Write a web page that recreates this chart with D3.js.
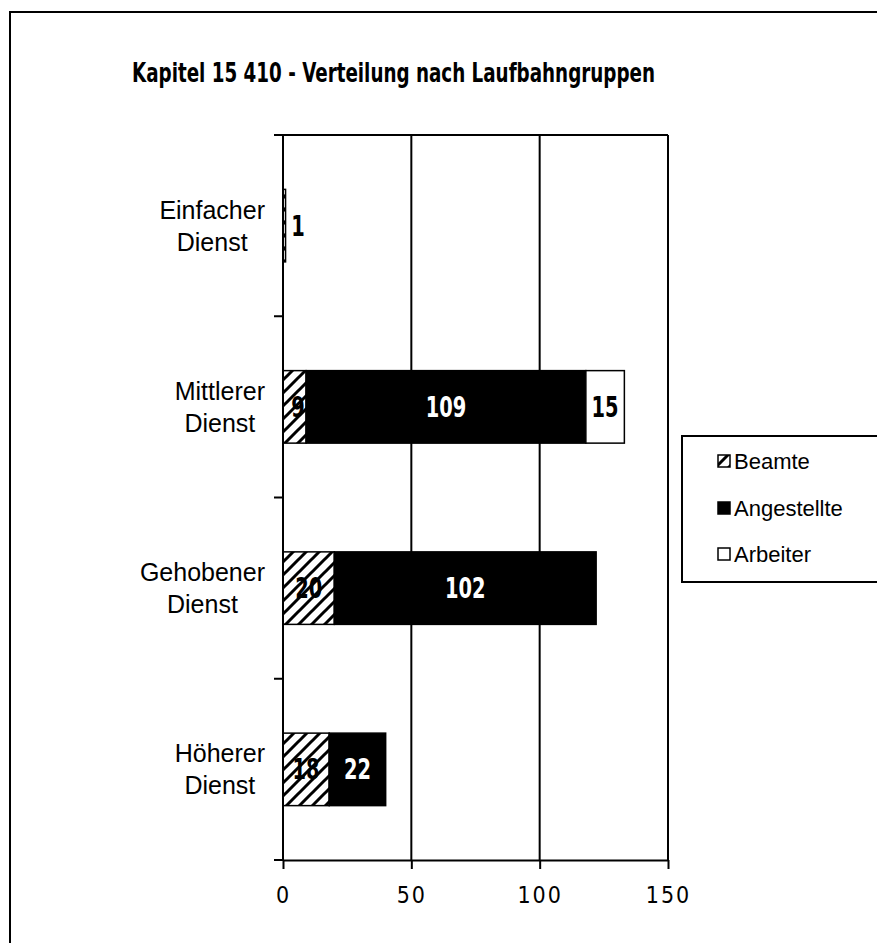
<!DOCTYPE html>
<html><head><meta charset="utf-8">
<script src="https://cdn.jsdelivr.net/npm/d3@7"></script>
<style>
html,body{margin:0;padding:0;background:#fff;}
svg{display:block;}
</style></head>
<body>
<svg id="chart" width="877" height="943"></svg>
<script>
const title = "Kapitel 15 410 - Verteilung nach Laufbahngruppen";
const categories = ["Einfacher Dienst", "Mittlerer Dienst", "Gehobener Dienst", "Höherer Dienst"];
const seriesNames = ["Beamte", "Angestellte", "Arbeiter"];
const beamte = [1, 9, 20, 18];
const angestellte = [0, 109, 102, 22];
const arbeiter = [0, 15, 0, 0];
const xTicks = [0, 50, 100, 150];

const svg = d3.select("#chart");
const narrow = "'Liberation Sans Narrow','DejaVu Sans Condensed','Arial Narrow',sans-serif";
const sans = "'Liberation Sans',Arial,sans-serif";

// pattern
const defs = svg.append("defs");
const pat = defs.append("pattern").attr("id","hatch").attr("patternUnits","userSpaceOnUse")
  .attr("width",13).attr("height",13);
pat.append("rect").attr("width",13).attr("height",13).attr("fill","#fff");
pat.append("path").attr("d","M-3,3 L3,-3 M0,13 L13,0 M10,16 L16,10")
  .attr("stroke","#000").attr("stroke-width",3);

// outer frame
svg.append("rect").attr("x",10).attr("y",12).attr("width",900).attr("height",960)
  .attr("fill","none").attr("stroke","#000").attr("stroke-width",2);

// title
svg.append("text").attr("x",132).attr("y",82).text(title)
  .attr("font-family",narrow).attr("font-weight","bold").attr("font-size",27)
  .attr("textLength",523).attr("lengthAdjust","spacingAndGlyphs").attr("fill","#000");

const x = d3.scaleLinear().domain([0,150]).range([283,668]);
const y = d3.scaleBand().domain(categories).range([135,860]).paddingInner(0.6).paddingOuter(0.3);

const rows = categories.map((c,i)=>({cat:c, Beamte:beamte[i], Angestellte:angestellte[i], Arbeiter:arbeiter[i]}));
const stack = d3.stack().keys(seriesNames)(rows);
const fills = {Beamte:"url(#hatch)", Angestellte:"#000", Arbeiter:"#fff"};
const labelColor = {Beamte:"#000", Angestellte:"#fff", Arbeiter:"#000"};

// gridlines
svg.append("g").selectAll("line").data(xTicks.slice(1)).join("line")
  .attr("x1",d=>x(d)).attr("x2",d=>x(d)).attr("y1",135).attr("y2",860)
  .attr("stroke","#000").attr("stroke-width",2);
// top border
svg.append("line").attr("x1",274).attr("x2",x(150)).attr("y1",135).attr("y2",135)
  .attr("stroke","#000").attr("stroke-width",2);

// bars
const g = svg.append("g");
stack.forEach(s=>{
  g.selectAll(null).data(s.filter(d=>d[1]-d[0]>0)).join("rect")
    .attr("x",d=>x(d[0])).attr("width",d=>x(d[1])-x(d[0]))
    .attr("y",d=>y(d.data.cat)).attr("height",y.bandwidth())
    .attr("fill",fills[s.key]).attr("stroke","#000").attr("stroke-width",1.5);
});
// labels
stack.forEach(s=>{
  g.selectAll(null).data(s.filter(d=>d[1]-d[0]>0)).join("text")
    .attr("x",d=>Math.max((x(d[0])+x(d[1]))/2, x(0)+15))
    .attr("y",d=>y(d.data.cat)+y.bandwidth()/2)
    .attr("dy","0.36em").attr("text-anchor","middle")
    .attr("font-family",narrow).attr("font-weight","bold").attr("font-size",28)
    .attr("textLength",d=>String(d[1]-d[0]).length*13.5).attr("lengthAdjust","spacingAndGlyphs")
    .attr("fill",labelColor[s.key]).text(d=>d[1]-d[0]);
});

// y axis line and ticks
svg.append("line").attr("x1",x(0)).attr("x2",x(0)).attr("y1",135).attr("y2",860)
  .attr("stroke","#000").attr("stroke-width",2);
const boundaries = d3.range(categories.length+1).map(i=>135 + i*y.step());
svg.append("g").selectAll("line").data(boundaries).join("line")
  .attr("x1",274).attr("x2",x(0)).attr("y1",d=>d).attr("y2",d=>d)
  .attr("stroke","#000").attr("stroke-width",2);

// x axis
const xa = svg.append("g").attr("transform","translate(0,860)")
  .call(d3.axisBottom(x).tickValues(xTicks).tickSize(9).tickSizeOuter(0).tickPadding(18));
xa.select(".domain").attr("stroke","#000").attr("stroke-width",2);
xa.selectAll(".tick line").attr("stroke","#000").attr("stroke-width",2);
xa.selectAll(".tick text").attr("font-family",narrow).attr("font-size",23)
  .attr("letter-spacing","2px").attr("fill","#000");
svg.append("line").attr("x1",274).attr("x2",x(0)).attr("y1",860).attr("y2",860)
  .attr("stroke","#000").attr("stroke-width",2);

// category labels
const cl = svg.append("g");
categories.forEach(c=>{
  const lines = c.split(" ");
  const t = cl.append("g");
  const cy = y(c)+y.bandwidth()/2;
  const texts = lines.map((l,i)=>t.append("text").text(l)
    .attr("y", cy + (i===0 ? -16 : 16)).attr("dy","0.36em")
    .attr("text-anchor","middle").attr("font-family",sans).attr("font-size",25).attr("fill","#000"));
  const maxW = d3.max(texts, n=>n.node().getComputedTextLength());
  texts.forEach(n=>n.attr("x", 265 - maxW/2));
});

// legend
const lg = svg.append("g");
lg.append("rect").attr("x",682).attr("y",436).attr("width",220).attr("height",146)
  .attr("fill","#fff").attr("stroke","#000").attr("stroke-width",2);
const legY = [461, 508, 554];
seriesNames.forEach((n,i)=>{
  lg.append("rect").attr("x",718).attr("y",legY[i]-6).attr("width",12).attr("height",12)
    .attr("fill",fills[n]).attr("stroke","#000").attr("stroke-width",1.5);
  lg.append("text").attr("x",734).attr("y",legY[i]).attr("dy","0.36em").text(n)
    .attr("font-family",sans).attr("font-size",22).attr("fill","#000");
});
</script>
</body></html>
